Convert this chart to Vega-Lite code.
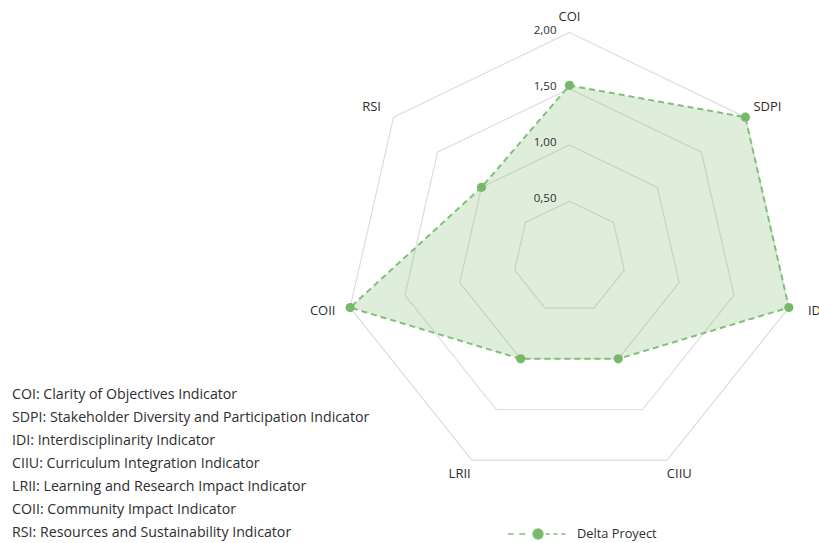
{
  "$schema": "https://vega.github.io/schema/vega-lite/v6.json",
  "width": 819,
  "height": 543,
  "autosize": {"type": "none"},
  "padding": 0,
  "background": "white",
  "config": {
    "view": {"stroke": null},
    "font": "Open Sans",
    "text": {"font": "Open Sans", "color": "#2e2e2e"}
  },
  "datasets": {
    "scores": [
      {"indicator": "COI", "name": "Clarity of Objectives Indicator", "value": 1.53, "series": "Delta Proyect"},
      {"indicator": "SDPI", "name": "Stakeholder Diversity and Participation Indicator", "value": 2.0, "series": "Delta Proyect"},
      {"indicator": "IDI", "name": "Interdisciplinarity Indicator", "value": 2.0, "series": "Delta Proyect"},
      {"indicator": "CIIU", "name": "Curriculum Integration Indicator", "value": 1.0, "series": "Delta Proyect"},
      {"indicator": "LRII", "name": "Learning and Research Impact Indicator", "value": 1.0, "series": "Delta Proyect"},
      {"indicator": "COII", "name": "Community Impact Indicator", "value": 2.0, "series": "Delta Proyect"},
      {"indicator": "RSI", "name": "Resources and Sustainability Indicator", "value": 1.0, "series": "Delta Proyect"}
    ],
    "rings": [
      {"level": 0.5, "label": "0,50", "vertex": [0, 1, 2, 3, 4, 5, 6]},
      {"level": 1.0, "label": "1,00", "vertex": [0, 1, 2, 3, 4, 5, 6]},
      {"level": 1.5, "label": "1,50", "vertex": [0, 1, 2, 3, 4, 5, 6]},
      {"level": 2.0, "label": "2,00", "vertex": [0, 1, 2, 3, 4, 5, 6]}
    ]
  },
  "layer": [
    {
      "encoding": {
        "x": {"type": "quantitative", "scale": {"domain": [-5.062, 2.218], "nice": false, "zero": false}, "axis": null},
        "y": {"type": "quantitative", "scale": {"domain": [-2.538, 2.289], "nice": false, "zero": false}, "axis": null}
      },
      "layer": [
        {
          "data": {"name": "rings"},
          "transform": [
            {"flatten": ["vertex"]},
            {"calculate": "datum.vertex * 2 * PI / 7", "as": "angle"},
            {"calculate": "datum.level * sin(datum.angle)", "as": "px"},
            {"calculate": "datum.level * cos(datum.angle)", "as": "py"}
          ],
          "mark": {"type": "line", "interpolate": "linear-closed", "stroke": "#dddddd", "strokeWidth": 1.2},
          "encoding": {
            "x": {"field": "px", "type": "quantitative"},
            "y": {"field": "py", "type": "quantitative"},
            "detail": {"field": "level"},
            "order": {"field": "vertex", "type": "quantitative"}
          }
        },
        {
          "data": {"name": "scores"},
          "transform": [
            {"window": [{"op": "row_number", "as": "rn"}]},
            {"calculate": "(datum.rn - 1) * 2 * PI / 7", "as": "angle"},
            {"calculate": "datum.value * sin(datum.angle)", "as": "px"},
            {"calculate": "datum.value * cos(datum.angle)", "as": "py"}
          ],
          "mark": {"type": "line", "interpolate": "linear-closed", "fill": "#7dbb6e", "fillOpacity": 0.25, "strokeOpacity": 0},
          "encoding": {
            "x": {"field": "px", "type": "quantitative"},
            "y": {"field": "py", "type": "quantitative"},
            "order": {"field": "rn", "type": "quantitative"}
          }
        },
        {
          "data": {"name": "scores"},
          "transform": [
            {"window": [{"op": "row_number", "as": "rn"}]},
            {"calculate": "(datum.rn - 1) * 2 * PI / 7", "as": "angle"},
            {"calculate": "datum.value * sin(datum.angle)", "as": "px"},
            {"calculate": "datum.value * cos(datum.angle)", "as": "py"}
          ],
          "mark": {"type": "line", "interpolate": "linear-closed", "stroke": "#82c07a", "strokeWidth": 2, "strokeDash": [6, 4]},
          "encoding": {
            "x": {"field": "px", "type": "quantitative"},
            "y": {"field": "py", "type": "quantitative"},
            "order": {"field": "rn", "type": "quantitative"}
          }
        },
        {
          "data": {"name": "scores"},
          "transform": [
            {"window": [{"op": "row_number", "as": "rn"}]},
            {"calculate": "(datum.rn - 1) * 2 * PI / 7", "as": "angle"},
            {"calculate": "datum.value * sin(datum.angle)", "as": "px"},
            {"calculate": "datum.value * cos(datum.angle)", "as": "py"}
          ],
          "mark": {"type": "point", "filled": true, "size": 85, "opacity": 1},
          "encoding": {
            "x": {"field": "px", "type": "quantitative"},
            "y": {"field": "py", "type": "quantitative"},
            "color": {
              "field": "series",
              "type": "nominal",
              "scale": {"range": ["#78b86b"]},
              "legend": {
                "title": null,
                "orient": "none",
                "legendX": 522,
                "legendY": 518,
                "padding": 0,
                "symbolType": "M-2,0L-1.62,0M-1.25,0L-0.85,0M0.5,0L0.78,0M1.02,0L1.3,0M1.55,0L1.82,0M0.33,0A0.33,0.33 0 1 1 -0.33,0A0.33,0.33 0 1 1 0.33,0Z",
                "symbolSize": 900,
                "symbolStrokeColor": "#82c07a",
                "symbolStrokeWidth": 1.6,
                "labelOffset": 23,
                "labelFontSize": 12.8,
                "labelFont": "Open Sans",
                "labelColor": "#2e2e2e",
                "encode": {"symbols": {"stroke": {"value": "#82c07a"}, "strokeWidth": {"value": 1.6}}}
              }
            }
          }
        },
        {
          "data": {"name": "scores"},
          "transform": [
            {"window": [{"op": "row_number", "as": "rn"}]},
            {"calculate": "(datum.rn - 1) * 2 * PI / 7", "as": "angle"},
            {"calculate": "2.25 * sin(datum.angle)", "as": "lx"},
            {"calculate": "2.14 * cos(datum.angle)", "as": "ly"}
          ],
          "mark": {"type": "text", "fontSize": 13, "align": "center", "baseline": "middle"},
          "encoding": {
            "x": {"field": "lx", "type": "quantitative"},
            "y": {"field": "ly", "type": "quantitative"},
            "text": {"field": "indicator"}
          }
        },
        {
          "data": {"name": "rings"},
          "mark": {"type": "text", "fontSize": 11.5, "align": "right", "baseline": "middle", "dx": -13, "dy": -2},
          "encoding": {
            "x": {"datum": 0, "type": "quantitative"},
            "y": {"field": "level", "type": "quantitative"},
            "text": {"field": "label"}
          }
        }
      ]
    },
    {
      "data": {"name": "scores"},
      "transform": [
        {"calculate": "datum.indicator + ': ' + datum.name", "as": "definition"}
      ],
      "mark": {"type": "text", "fontSize": 14.2, "align": "left", "baseline": "middle"},
      "encoding": {
        "x": {"value": 12},
        "y": {"field": "definition", "type": "nominal", "sort": null, "scale": {"type": "point", "range": [395, 533], "padding": 0}, "axis": null},
        "text": {"field": "definition"}
      }
    }
  ],
  "resolve": {"scale": {"x": "independent", "y": "independent"}}
}
